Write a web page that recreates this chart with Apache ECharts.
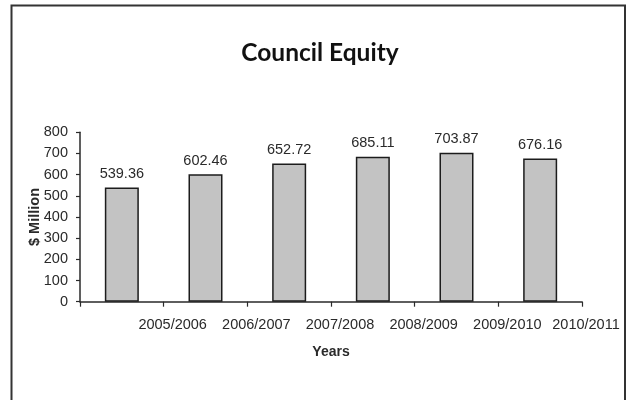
<!DOCTYPE html>
<html>
<head>
<meta charset="utf-8">
<title>Council Equity</title>
<script src="https://cdn.jsdelivr.net/npm/echarts@6/dist/echarts.min.js"></script>
<style>
  html, body { margin: 0; padding: 0; background: #ffffff; }
  #chart { width: 628px; height: 400px; }
</style>
</head>
<body>
<div id="chart"></div>
<script>
// Council equity by financial year, in $ million
const categories = ['2005/2006', '2006/2007', '2007/2008', '2008/2009', '2009/2010', '2010/2011'];
const equityValues = [539.36, 602.46, 652.72, 685.11, 703.87, 676.16];
const yearLabels = ['2005/2006', '2006/2007', '2007/2008', '2008/2009', '2009/2010', '2010/2011'];
const yTicks = { min: 0, max: 800, step: 100 };

const font = '"Liberation Sans", Arial, sans-serif';
const ink = '#2a2a2a';

const chart = echarts.init(document.getElementById('chart'), null, { renderer: 'canvas' });

chart.setOption({
  animation: false,
  backgroundColor: '#ffffff',
  title: {
    text: 'Council Equity',
    left: 315,
    textAlign: 'center',
    top: 36,
    textStyle: { fontFamily: 'Lato, "Open Sans", sans-serif', fontWeight: 'bold', fontSize: 24.5, color: '#111' }
  },
  graphic: [{
    type: 'rect',
    shape: { x: 11.5, y: 5.5, width: 613.5, height: 400 },
    style: { fill: 'none', stroke: '#333', lineWidth: 2 },
    silent: true
  }],
  grid: [
    { left: 80, right: 46, top: 132.3, bottom: 98.3 },
    // label row sits a little to the right of the boundary ticks
    { left: 89, right: 37, top: 132.3, bottom: 98.3 }
  ],
  xAxis: [{
    type: 'category',
    gridIndex: 0,
    data: categories,
    boundaryGap: true,
    axisLine: { show: true, lineStyle: { color: ink, width: 1.5 } },
    axisTick: { show: true, length: 5, lineStyle: { color: ink, width: 1.2 } },
    axisLabel: { show: false },
    splitLine: { show: false },
    name: 'Years',
    nameLocation: 'middle',
    nameGap: 43,
    nameMoveOverlap: false,
    nameTextStyle: { fontFamily: font, fontWeight: 'bold', fontSize: 14, color: ink }
  }, {
    type: 'value',
    gridIndex: 1,
    min: 0,
    max: 6,
    interval: 1,
    position: 'bottom',
    axisLine: { show: false },
    axisTick: { show: false },
    splitLine: { show: false },
    axisLabel: {
      show: true,
      margin: 16,
      showMinLabel: true,
      showMaxLabel: true,
      fontFamily: font,
      fontSize: 14.5,
      color: ink,
      formatter: function (v) {
        const i = Math.round(v);
        if (i < 1) return '';
        return i === yearLabels.length ? '{last|' + yearLabels[i - 1] + '}' : yearLabels[i - 1];
      },
      rich: {
        last: { fontFamily: font, fontSize: 14.5, color: ink, padding: [0, 10, 3, 0] }
      }
    }
  }],
  yAxis: [{
    type: 'value',
    gridIndex: 0,
    min: yTicks.min,
    max: yTicks.max,
    interval: yTicks.step,
    axisLine: { show: true, lineStyle: { color: ink, width: 1.5 } },
    axisTick: { show: true, length: 4, lineStyle: { color: ink, width: 1.2 } },
    splitLine: { show: false },
    axisLabel: { margin: 12, fontFamily: font, fontSize: 14.5, color: ink },
    name: '$ Million',
    nameLocation: 'middle',
    nameRotate: 90,
    nameGap: 38,
    nameMoveOverlap: false,
    nameTextStyle: { fontFamily: font, fontWeight: 'bold', fontSize: 14.5, color: ink }
  }, {
    type: 'value',
    gridIndex: 1,
    show: false,
    min: 0,
    max: 800
  }],
  series: [{
    type: 'bar',
    xAxisIndex: 0,
    yAxisIndex: 0,
    data: equityValues,
    barWidth: 34,
    itemStyle: { color: '#c3c3c3', borderColor: '#1c1c1c', borderWidth: 1.5 },
    label: {
      show: true,
      position: 'top',
      distance: 6,
      fontFamily: font,
      fontSize: 14.5,
      color: ink,
      formatter: function (p) { return p.value.toFixed(2); }
    }
  }]
});
</script>
</body>
</html>
